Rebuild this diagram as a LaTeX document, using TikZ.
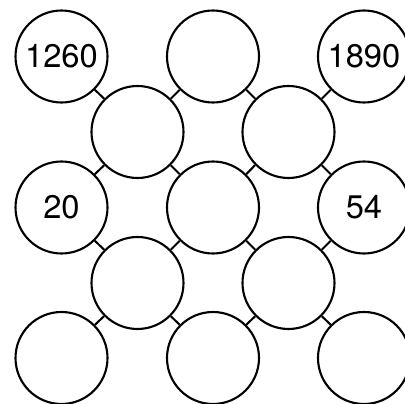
\documentclass[tikz,border=0pt]{standalone}
\usepackage{fontspec}
\setmainfont{TeX Gyre Heros}
\usetikzlibrary{positioning}

\begin{document}
\begin{tikzpicture}[
    ring/.style={circle, draw, line width=1.2pt, fill=white, minimum size=1.84cm,
        inner sep=0pt, font=\fontsize{18.6}{22}\selectfont},
    link/.style={line width=1.2pt}]
    \useasboundingbox (0,0) rectangle (8.1,8.08);

    % outer grid
    \node[ring] (tl) at (1.23,6.95) {1260};
    \node[ring] (tm) at (4.26,6.95) {};
    \node[ring] (tr) at (7.28,6.95) {1890};
    \node[ring] (ml) at (1.23,3.93) {20};
    \node[ring] (mm) at (4.26,3.93) {};
    \node[ring] (mr) at (7.28,3.93) {54};
    \node[ring] (bl) at (1.23,0.92) {};
    \node[ring] (bm) at (4.26,0.92) {};
    \node[ring] (br) at (7.28,0.92) {};

    % inner grid
    \node[ring] (itl) at (2.75,5.44) {};
    \node[ring] (itr) at (5.77,5.44) {};
    \node[ring] (ibl) at (2.75,2.42) {};
    \node[ring] (ibr) at (5.77,2.42) {};

    \draw[link] (itl) -- (tl);
    \draw[link] (itl) -- (tm);
    \draw[link] (itl) -- (ml);
    \draw[link] (itl) -- (mm);
    \draw[link] (itr) -- (tm);
    \draw[link] (itr) -- (tr);
    \draw[link] (itr) -- (mm);
    \draw[link] (itr) -- (mr);
    \draw[link] (ibl) -- (ml);
    \draw[link] (ibl) -- (mm);
    \draw[link] (ibl) -- (bl);
    \draw[link] (ibl) -- (bm);
    \draw[link] (ibr) -- (mm);
    \draw[link] (ibr) -- (mr);
    \draw[link] (ibr) -- (bm);
    \draw[link] (ibr) -- (br);
\end{tikzpicture}
\end{document}
